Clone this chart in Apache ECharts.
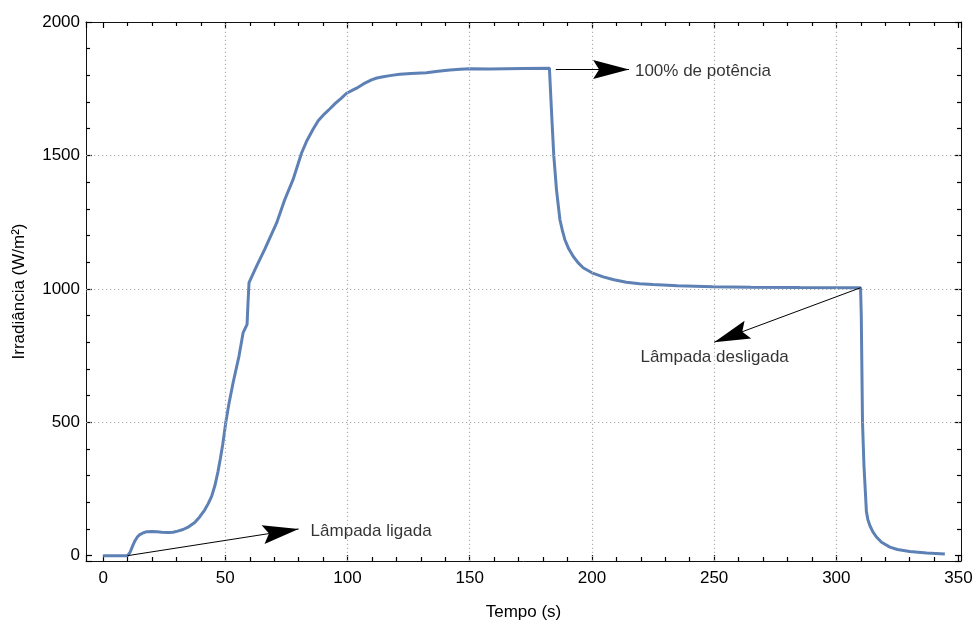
<!DOCTYPE html>
<html>
<head>
<meta charset="utf-8">
<script src="https://cdn.jsdelivr.net/npm/echarts@6/dist/echarts.min.js"></script>
<style>
  html, body { margin: 0; padding: 0; background: #fff; }
  #chart { width: 977px; height: 626px; }
</style>
</head>
<body>
<div id="chart"></div>
<script>
// Tempo (s) e irradiância medida (W/m²)
const tempo = [0, 10, 11, 12, 13, 14, 15, 16.5, 18, 20,
  22, 24, 26.5, 28.6, 30.5, 32.7, 35, 37.5, 39.5, 41.6,
  43, 44.4, 45.8, 47, 48, 48.9, 49.6, 50.2, 51.5, 53.2,
  55.6, 57.3, 58.9, 59.3, 59.7, 62.8, 66.2, 71, 74.3, 77.7,
  81.2, 83.2, 85.9, 88, 90.5, 92.8, 95, 97.5, 99.6, 101.5,
  103.7, 106.5, 109.8, 112, 114.6, 118, 121.4, 126, 132.3, 137,
  141.9, 146, 150, 158.2, 171.9, 182.6, 183.7, 184.4, 185.5, 186.9,
  188, 188.9, 190.5, 192.3, 194.3, 196.4, 200, 204.6, 209, 214.1,
  219.5, 225, 235, 249.5, 265, 285, 309.9, 310.2, 310.7, 311.3,
  312.3, 312.9, 313.7, 314.9, 316.4, 318.5, 321.9, 325, 330, 337,
  344.4];
const irradiancia = [0, 0, 12, 35, 55, 70, 79, 86, 90, 91,
  89.5, 88, 87, 88, 92, 98, 108, 124, 145, 172,
  195, 222, 265, 315, 365, 415, 460, 500, 570, 649,
  748, 836, 867, 950, 1023, 1085, 1150, 1247, 1334, 1409,
  1509, 1552, 1598, 1630, 1655, 1675, 1695, 1715, 1733, 1742,
  1752, 1768, 1783, 1790, 1795, 1800, 1804, 1807, 1810, 1815,
  1820, 1823, 1825, 1824, 1826, 1827, 1621, 1498, 1371, 1259,
  1215, 1185, 1150, 1122, 1098, 1079, 1060, 1045, 1034, 1025,
  1019, 1016, 1012, 1008, 1006, 1005, 1004, 900, 500, 337,
  165, 135, 113, 90, 70, 50, 32, 23, 16, 10,
  6];

// Linhas de grade pontilhadas
const gradeX = [50, 100, 150, 200, 250, 300];
const gradeY = [500, 1000, 1500];

// Anotações: início da seta, ponta da seta, posição do texto
const notas = [
  { texto: 'Lâmpada ligada', de: [10, 0], para: [80, 100], pos: [84.9, 92], alinhar: 'left' },
  { texto: '100% de potência', de: [185.2, 1822], para: [215.2, 1822], pos: [217.6, 1817], alinhar: 'left' },
  { texto: 'Lâmpada desligada', de: [309.9, 1004], para: [250, 800], pos: [250.2, 744], alinhar: 'center' }
];

const fonte = '"Liberation Sans", Arial, sans-serif';
const corTexto = '#000';
const corEixo = '#111';
const ponta = 'path://M10,0 L20,36 L10,30 L0,36 Z';

function eixoX(pos, rotulos) {
  return {
    type: 'value', position: pos, min: -7, max: 351,
    splitNumber: 7, minInterval: 50, maxInterval: 50,
    name: rotulos ? 'Tempo (s)' : '', nameLocation: 'middle', nameGap: 43,
    nameTextStyle: { fontFamily: fonte, fontSize: 17, color: corTexto },
    axisLine: { show: true, onZero: false, lineStyle: { color: corEixo, width: 1 } },
    axisTick: { show: true, inside: true, length: 6, lineStyle: { color: '#000', width: 1.2 } },
    minorTick: { show: true, splitNumber: 5, length: 4, lineStyle: { color: '#000', width: 1.2 } },
    splitLine: { show: false },
    axisLabel: { show: rotulos, fontFamily: fonte, fontSize: 17, color: corTexto, margin: 9,
      showMinLabel: false, showMaxLabel: false, formatter: v => String(v) }
  };
}
function eixoY(pos, rotulos) {
  return {
    type: 'value', position: pos, min: -20, max: 2000,
    splitNumber: 4, minInterval: 500, maxInterval: 500,
    name: rotulos ? 'Irradiância (W/m²)' : '', nameLocation: 'middle', nameGap: 58,
    nameTextStyle: { fontFamily: fonte, fontSize: 17, color: corTexto },
    axisLine: { show: true, onZero: false, lineStyle: { color: corEixo, width: 1 } },
    axisTick: { show: true, inside: true, length: 6, lineStyle: { color: '#000', width: 1.2 } },
    minorTick: { show: true, splitNumber: 5, length: 4, lineStyle: { color: '#000', width: 1.2 } },
    splitLine: { show: false },
    axisLabel: { show: rotulos, fontFamily: fonte, fontSize: 17, color: corTexto, margin: 6,
      showMinLabel: false, formatter: v => String(v) }
  };
}

const chart = echarts.init(document.getElementById('chart'), null, { renderer: 'canvas' });

const option = {
  animation: false,
  backgroundColor: '#fff',
  grid: { left: 86, right: 16, top: 22, bottom: 64 },
  xAxis: [eixoX('bottom', true), eixoX('top', false)],
  yAxis: [eixoY('left', true), eixoY('right', false)],
  series: [
    {
      name: 'grade', type: 'line', data: [], silent: true, z: 1,
      markLine: {
        silent: true, symbol: ['none', 'none'], animation: false,
        label: { show: false },
        lineStyle: { color: '#b0b0b0', width: 1.2, type: [1.3, 2.7] },
        emphasis: { disabled: true },
        data: gradeX.map(v => ({ xAxis: v })).concat(gradeY.map(v => ({ yAxis: v })))
      }
    },
    {
      name: 'Irradiância', type: 'line', z: 3,
      data: tempo.map((t, i) => [t, irradiancia[i]]),
      showSymbol: false, smooth: false,
      lineStyle: { color: '#5E81B5', width: 3 },
      itemStyle: { color: '#5E81B5' }
    },
    {
      name: 'setas', type: 'line', data: [], silent: true, z: 4,
      markLine: {
        silent: true, animation: false,
        symbol: ['none', ponta], symbolSize: [19, 36], symbolOffset: [[0, 0], [0, 18]],
        label: { show: false },
        lineStyle: { color: '#000', width: 1, type: 'solid' },
        itemStyle: { color: '#000' },
        emphasis: { disabled: true },
        data: notas.map(n => [{ coord: n.de }, { coord: n.para }])
      }
    },
    {
      name: 'textos', type: 'scatter', z: 5, silent: true,
      symbolSize: 0,
      data: notas.map(n => ({
        value: n.pos,
        label: {
          show: true, formatter: n.texto,
          position: n.alinhar === 'left' ? 'right' : 'inside',
          distance: 0,
          fontFamily: fonte, fontSize: 17, color: corTexto
        }
      }))
    }
  ]
};
chart.setOption(option);
</script>
</body>
</html>
